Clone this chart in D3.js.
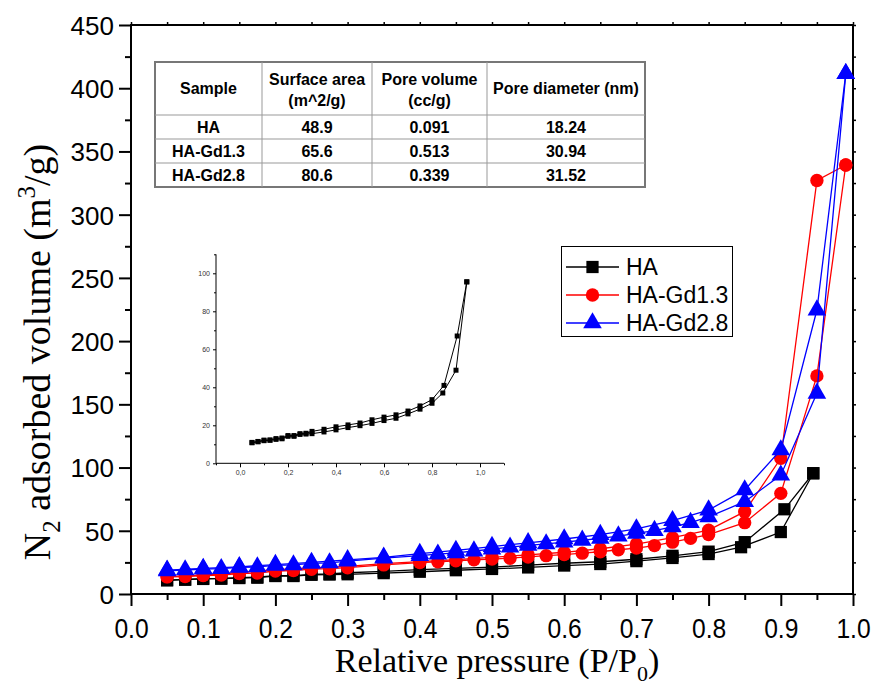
<!DOCTYPE html>
<html lang="en">
<head>
<meta charset="UTF-8">
<title>N2 adsorption isotherms</title>
<script src="https://d3js.org/d3.v7.min.js"></script>
<style>
  body { margin: 0; background: #fff; }
  svg { display: block; }
</style>
</head>
<body>
<div id="chart"></div>
<script>
// HA (black squares)
var haAdsP = [0.05,0.075,0.1,0.125,0.15,0.175,0.2,0.225,0.25,0.275,0.3,0.35,0.4,0.45,0.5,0.55,0.6,0.65,0.7,0.75,0.8,0.845,0.9,0.945];
var haAdsV = [10.8,11.3,11.9,12.1,12.6,12.9,14.2,14.2,15.2,15.4,15.6,16.5,17.6,18.8,19.8,21.0,22.5,23.7,26.0,28.5,31.6,37.0,49.0,95.5];
var haDesP = [0.945,0.905,0.85,0.8,0.75,0.7,0.65,0.6,0.55,0.5,0.45,0.4,0.35,0.3,0.275,0.25,0.225,0.2,0.175,0.15,0.125,0.1,0.075,0.05];
var haDesV = [95.5,67.0,41.0,33.5,30.2,27.5,25.5,24.3,22.9,21.2,20.2,19.2,17.9,16.8,15.8,15.6,14.6,14.6,13.3,13.0,12.3,12.2,11.5,11.0];

// HA-Gd1.3 (red circles)
var gd13AdsP = [0.05,0.075,0.1,0.125,0.15,0.175,0.2,0.225,0.25,0.275,0.3,0.35,0.4,0.425,0.45,0.475,0.5,0.525,0.55,0.575,0.6,0.625,0.65,0.675,0.7,0.725,0.75,0.775,0.8,0.85,0.9,0.95,0.99];
var gd13AdsV = [13.5,13.8,14.6,15.0,16.2,16.6,18.2,18.6,19.6,20.0,20.8,23.0,24.8,25.5,26.3,27.0,27.6,28.3,29.3,30.3,31.2,32.3,33.4,35.0,36.3,38.3,41.0,44.0,47.0,56.4,79.6,172.5,339.3];
var gd13DesP = [0.99,0.95,0.9,0.85,0.8,0.75,0.7,0.65,0.6,0.55,0.5,0.45,0.4,0.35,0.3,0.25,0.2,0.15,0.1,0.05];
var gd13DesV = [339.3,327.0,107.3,65.1,50.5,44.5,39.5,35.8,33.0,31.0,29.0,27.2,25.6,24.0,21.8,20.6,19.2,17.0,15.0,13.8];

// HA-Gd2.8 (blue triangles)
var gd28AdsP = [0.05,0.075,0.1,0.125,0.15,0.175,0.2,0.225,0.25,0.275,0.3,0.35,0.4,0.425,0.45,0.475,0.5,0.525,0.55,0.575,0.6,0.625,0.65,0.675,0.7,0.725,0.75,0.775,0.8,0.85,0.9,0.95,0.99];
var gd28AdsV = [18.3,19.0,19.7,20.0,21.0,21.4,22.6,23.0,24.2,24.6,26.0,28.3,30.3,31.5,32.6,34.0,35.5,37.0,38.4,39.6,41.0,42.5,44.0,45.8,48.0,50.2,53.0,56.5,61.0,73.0,94.0,158.7,411.5];
var gd28DesP = [0.99,0.95,0.9,0.85,0.8,0.75,0.7,0.65,0.6,0.55,0.5,0.45,0.4,0.35,0.3,0.25,0.2,0.15,0.1,0.05];
var gd28DesV = [411.5,224.6,113.9,82.3,66.4,58.0,51.5,47.0,43.5,40.5,37.5,34.5,32.0,29.0,27.0,25.0,23.3,21.5,20.2,18.8];

var seriesNames = ["HA", "HA-Gd1.3", "HA-Gd2.8"];
var seriesColors = ["#000000", "#ff0000", "#0000ff"];

// table values
var tableHead = [["Sample"], ["Surface area", "(m^2/g)"], ["Pore volume", "(cc/g)"], ["Pore diameter (nm)"]];
var tableSamples = ["HA", "HA-Gd1.3", "HA-Gd2.8"];
var surfaceArea = ["48.9", "65.6", "80.6"];
var poreVolume = ["0.091", "0.513", "0.339"];
var poreDiameter = ["18.24", "30.94", "31.52"];

var xTicks = [0, 0.1, 0.2, 0.3, 0.4, 0.5, 0.6, 0.7, 0.8, 0.9, 1.0];
var yTicks = [0, 50, 100, 150, 200, 250, 300, 350, 400, 450];
var insetXTicks = [0, 0.2, 0.4, 0.6, 0.8, 1.0];
var insetYTicks = [0, 20, 40, 60, 80, 100];

var W = 878, H = 685;
var svg = d3.select("#chart").append("svg").attr("width", W).attr("height", H);

var x = d3.scaleLinear().domain([0, 1]).range([131, 853]);
var y = d3.scaleLinear().domain([0, 450]).range([594, 25]);

var sans = "'Liberation Sans', Arial, sans-serif";
var serif = "'Liberation Serif', 'Times New Roman', serif";

// frame
svg.append("rect")
  .attr("x", x(0)).attr("y", y(450))
  .attr("width", x(1) - x(0)).attr("height", y(0) - y(450))
  .attr("fill", "none").attr("stroke", "#000").attr("stroke-width", 2);

// bottom axis
var xAxis = svg.append("g").attr("transform", "translate(0," + y(0) + ")")
  .call(d3.axisBottom(x).tickValues(xTicks).tickSize(12).tickFormat(d3.format(".1f")));
xAxis.select(".domain").remove();
xAxis.selectAll("line").attr("stroke-width", 2);
xAxis.selectAll("text")
  .attr("font-family", sans).attr("font-size", 28).attr("fill", "#000")
  .attr("y", 44).attr("dy", 0)
  .attr("transform", "scale(0.88,1)");
svg.append("g").attr("transform", "translate(0," + y(0) + ")")
  .call(d3.axisBottom(x).tickValues(d3.range(0.05, 1, 0.1)).tickSize(6).tickFormat(""))
  .call(function(g) { g.select(".domain").remove(); g.selectAll("line").attr("stroke-width", 2); });

// left axis
var yAxis = svg.append("g").attr("transform", "translate(" + x(0) + ",0)")
  .call(d3.axisLeft(y).tickValues(yTicks).tickSize(12).tickPadding(5));
yAxis.select(".domain").remove();
yAxis.selectAll("line").attr("stroke-width", 2);
yAxis.selectAll("text").attr("font-family", sans).attr("font-size", 26).attr("fill", "#000").attr("dy", "0.36em");
svg.append("g").attr("transform", "translate(" + x(0) + ",0)")
  .call(d3.axisLeft(y).tickValues(d3.range(25, 450, 50)).tickSize(6).tickFormat(""))
  .call(function(g) { g.select(".domain").remove(); g.selectAll("line").attr("stroke-width", 2); });

// right and top small ticks
svg.append("g").attr("transform", "translate(" + x(1) + ",0)")
  .call(d3.axisRight(y).tickValues(d3.range(0, 451, 25)).tickSize(3).tickFormat(""))
  .call(function(g) { g.select(".domain").remove(); g.selectAll("line").attr("stroke-width", 1.5); });
svg.append("g").attr("transform", "translate(0," + y(450) + ")")
  .call(d3.axisTop(x).tickValues(d3.range(0, 1.01, 0.05)).tickSize(3).tickFormat(""))
  .call(function(g) { g.select(".domain").remove(); g.selectAll("line").attr("stroke-width", 1.5); });

// axis titles
var xt = svg.append("text").attr("x", 497).attr("y", 672).attr("text-anchor", "middle")
  .attr("font-family", serif).attr("font-size", 34).attr("fill", "#000");
xt.append("tspan").text("Relative pressure (P/P");
xt.append("tspan").attr("font-size", 22).attr("dy", 9).text("0");
xt.append("tspan").attr("dy", -9).text(")");

var yt = svg.append("text").attr("transform", "translate(50,352) rotate(-90)").attr("text-anchor", "middle")
  .attr("font-family", serif).attr("font-size", 38).attr("fill", "#000");
yt.append("tspan").text("N");
yt.append("tspan").attr("font-size", 25).attr("dy", 10).text("2");
yt.append("tspan").attr("dy", -10).text(" adsorbed volume (m");
yt.append("tspan").attr("font-size", 25).attr("dy", -15).text("3");
yt.append("tspan").attr("dy", 15).text("/g)");

// series
var shapes = [d3.symbolSquare, d3.symbolCircle, d3.symbolTriangle];
var sizes = [150, 140, 150];
var series = [
  { ads: d3.zip(haAdsP, haAdsV), des: d3.zip(haDesP, haDesV) },
  { ads: d3.zip(gd13AdsP, gd13AdsV), des: d3.zip(gd13DesP, gd13DesV) },
  { ads: d3.zip(gd28AdsP, gd28AdsV), des: d3.zip(gd28DesP, gd28DesV) }
];

var line = d3.line().x(d => x(d[0])).y(d => y(d[1]));

series.forEach(function(s, i) {
  var g = svg.append("g");
  [s.ads, s.des].forEach(function(branch) {
    g.append("path").datum(branch).attr("d", line)
      .attr("fill", "none").attr("stroke", seriesColors[i]).attr("stroke-width", 1.3);
  });
  var sym = d3.symbol().type(shapes[i]).size(sizes[i]);
  g.selectAll("path.pt").data(s.ads.concat(s.des)).enter().append("path")
    .attr("class", "pt")
    .attr("d", sym)
    .attr("transform", d => "translate(" + x(d[0]) + "," + y(d[1]) + ")")
    .attr("fill", seriesColors[i]);
});

// legend
var lg = svg.append("g");
lg.append("rect").attr("x", 561.5).attr("y", 246.5).attr("width", 171).attr("height", 90)
  .attr("fill", "#fff").attr("stroke", "#000").attr("stroke-width", 1);
seriesNames.forEach(function(name, i) {
  var cy = 267 + i * 28;
  lg.append("line").attr("x1", 566).attr("x2", 619).attr("y1", cy).attr("y2", cy)
    .attr("stroke", seriesColors[i]).attr("stroke-width", 1.3);
  lg.append("path").attr("d", d3.symbol().type(shapes[i]).size(sizes[i])())
    .attr("transform", "translate(592.5," + cy + ")").attr("fill", seriesColors[i]);
  lg.append("text").attr("x", 626).attr("y", cy + 8).text(name)
    .attr("font-family", sans).attr("font-size", 23).attr("fill", "#000");
});

// table
var colX = [155, 262, 372, 487, 645];
var rowY = [62, 115, 139, 163, 187];
var tb = svg.append("g");
tb.append("rect").attr("x", colX[0]).attr("y", rowY[0])
  .attr("width", colX[4] - colX[0]).attr("height", rowY[4] - rowY[0])
  .attr("fill", "#fff").attr("stroke", "#777").attr("stroke-width", 2);
colX.slice(1, 4).forEach(function(cx) {
  tb.append("line").attr("x1", cx).attr("x2", cx).attr("y1", rowY[0]).attr("y2", rowY[4])
    .attr("stroke", "#999").attr("stroke-width", 1);
});
rowY.slice(1, 4).forEach(function(ry) {
  tb.append("line").attr("x1", colX[0]).attr("x2", colX[4]).attr("y1", ry).attr("y2", ry)
    .attr("stroke", "#999").attr("stroke-width", 1);
});
tableHead.forEach(function(lines, c) {
  var cx = (colX[c] + colX[c + 1]) / 2;
  lines.forEach(function(t, k) {
    var ty = lines.length === 1 ? 94 : 85 + k * 21;
    tb.append("text").attr("x", cx).attr("y", ty).attr("text-anchor", "middle").text(t)
      .attr("font-family", sans).attr("font-weight", "bold").attr("font-size", 16).attr("fill", "#000");
  });
});
var cols = [tableSamples, surfaceArea, poreVolume, poreDiameter];
cols.forEach(function(col, c) {
  var cx = (colX[c] + colX[c + 1]) / 2;
  col.forEach(function(t, r) {
    tb.append("text").attr("x", cx).attr("y", (rowY[r + 1] + rowY[r + 2]) / 2 + 6)
      .attr("text-anchor", "middle").text(t)
      .attr("font-family", sans).attr("font-weight", "bold").attr("font-size", 16).attr("fill", "#000");
  });
});

// inset (HA only)
var ix = d3.scaleLinear().domain([-0.1, 1.1]).range([216, 504]);
var iy = d3.scaleLinear().domain([0, 110]).range([463.3, 254.3]);
var ins = svg.append("g");
var ixa = ins.append("g").attr("transform", "translate(0," + iy(0) + ")")
  .call(d3.axisBottom(ix).tickValues(insetXTicks).tickSize(4).tickPadding(3)
    .tickFormat(d => d3.format(".1f")(d).replace(".", ",")));
ixa.select(".domain").attr("d", "M" + ix(-0.1) + ",0H" + ix(1.1));
ixa.selectAll("text").attr("font-family", sans).attr("font-size", 7).attr("fill", "#333");
ins.append("g").attr("transform", "translate(0," + iy(0) + ")")
  .call(d3.axisBottom(ix).tickValues([-0.1, 0.1, 0.3, 0.5, 0.7, 0.9, 1.1]).tickSize(2).tickFormat(""))
  .call(g => g.select(".domain").remove());
var iya = ins.append("g").attr("transform", "translate(" + ix(-0.1) + ",0)")
  .call(d3.axisLeft(iy).tickValues(insetYTicks).tickSize(3).tickPadding(3));
iya.select(".domain").attr("d", "M0," + iy(0) + "V" + iy(110));
iya.selectAll("text").attr("font-family", sans).attr("font-size", 7).attr("fill", "#333");
ins.append("g").attr("transform", "translate(" + ix(-0.1) + ",0)")
  .call(d3.axisLeft(iy).tickValues([10, 30, 50, 70, 90, 110]).tickSize(2).tickFormat(""))
  .call(g => g.select(".domain").remove());

var iline = d3.line().x(d => ix(d[0])).y(d => iy(d[1]));
[series[0].ads, series[0].des].forEach(function(branch) {
  ins.append("path").datum(branch).attr("d", iline)
    .attr("fill", "none").attr("stroke", "#000").attr("stroke-width", 1);
});
ins.selectAll("rect.ipt").data(series[0].ads.concat(series[0].des)).enter().append("rect")
  .attr("class", "ipt")
  .attr("x", d => ix(d[0]) - 2.5).attr("y", d => iy(d[1]) - 2.5)
  .attr("width", 5).attr("height", 5).attr("fill", "#000");
</script>
</body>
</html>
